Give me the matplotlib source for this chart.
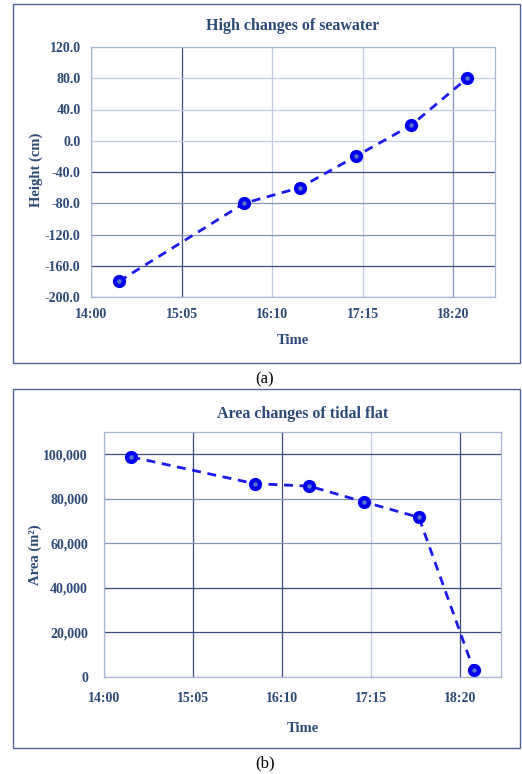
import matplotlib
matplotlib.use("Agg")
import matplotlib.pyplot as plt
from matplotlib.patches import Rectangle
from matplotlib.ticker import FixedLocator, FuncFormatter

# ---- data ----
times = ["14:20", "15:50", "16:30", "17:10", "17:50", "18:30"]
height_cm = [-180, -80, -60, -20, 20, 80]
area_m2 = [98800, 86800, 85700, 78600, 71700, 3200]
tick_labels = ["14:00", "15:05", "16:10", "17:15", "18:20"]
height_ticks = [-200, -160, -120, -80, -40, 0, 40, 80, 120]
area_ticks = [0, 20000, 40000, 60000, 80000, 100000]


def to_min(s):
    h, m = s.split(":")
    return (int(h) - 14) * 60 + int(m)


x = [to_min(t) for t in times]
xt = [to_min(t) for t in tick_labels]

TXT = "#2b4a78"
DARK = "#3a4c7e"
LIGHT = "#c3cde2"
MED = "#8594b8"
plt.rcParams["font.family"] = ["Liberation Serif", "DejaVu Serif"]

W, H = 522, 774
fig = plt.figure(figsize=(W / 100, H / 100), dpi=100)


def px_rect(x0, y0, x1, y1):
    return [x0 / W, 1 - y1 / H, (x1 - x0) / W, (y1 - y0) / H]


# outer boxes
for (x0, y0, x1, y1) in [(13, 4, 520, 363), (13, 389, 520, 748)]:
    fig.patches.append(Rectangle((x0 / W, 1 - y1 / H), (x1 - x0) / W, (y1 - y0) / H,
                                 transform=fig.transFigure, fill=False,
                                 edgecolor="#4f6494", linewidth=1.0))


def style(ax, yticks, fmt, vcols, hcols, ylim, xpad, ypad):
    ax.set_xlim(0, 290)
    ax.set_ylim(*ylim)
    ax.xaxis.set_major_locator(FixedLocator(xt))
    ax.set_xticklabels(tick_labels)
    ax.yaxis.set_major_locator(FixedLocator(yticks))
    ax.yaxis.set_major_formatter(FuncFormatter(fmt))
    ax.tick_params(length=0, labelsize=10, labelcolor=TXT)
    ax.tick_params(axis="x", pad=xpad)
    ax.tick_params(axis="y", pad=ypad)
    for lab in ax.get_xticklabels() + ax.get_yticklabels():
        lab.set_fontweight("bold")
    ax.grid(True, linewidth=0.9)
    ax.set_axisbelow(True)
    for gl, c in zip(ax.xaxis.get_gridlines(), vcols):
        gl.set_color(c)
    for gl, c in zip(ax.yaxis.get_gridlines(), hcols):
        gl.set_color(c)
    for sp in ax.spines.values():
        sp.set_color("#a9b6d3")
        sp.set_linewidth(0.9)


LS = (0, (3.2, 2.4))

# ---- panel (a) ----
ax1 = fig.add_axes(px_rect(91, 47, 495, 297))
ax1.plot(x, height_cm, linestyle=LS, color="#1a1aee", linewidth=2.0,
         marker="o", markersize=8.5, markerfacecolor="#0000ee", markeredgecolor="#0000ee")
ax1.plot(x, height_cm, linestyle="none", marker="o", markersize=2.2, color="#5577cc")
style(ax1, height_ticks, lambda v, p: f"{v:.1f}",
      [MED, DARK, LIGHT, LIGHT, MED],
      [MED, DARK, MED, MED, DARK, LIGHT, LIGHT, LIGHT, LIGHT], (-200, 120), 8, 7.5)
ax1.set_title("High changes of seawater", fontsize=11.5, fontweight="bold",
              color=TXT, pad=12)
ax1.set_ylabel("Height (cm)", fontsize=10.5, fontweight="bold", color=TXT)
ax1.yaxis.set_label_coords(-0.118, 0.51)
ax1.set_xlabel("Time", fontsize=10.5, fontweight="bold", color=TXT, labelpad=9)

# ---- panel (b) ----
ax2 = fig.add_axes(px_rect(104, 432, 501, 677))
ax2.plot(x, area_m2, linestyle=LS, color="#1a1aee", linewidth=2.0,
         marker="o", markersize=8.5, markerfacecolor="#0000ee", markeredgecolor="#0000ee")
ax2.plot(x, area_m2, linestyle="none", marker="o", markersize=2.2, color="#5577cc")
style(ax2, area_ticks, lambda v, p: f"{int(v):,}",
      [MED, DARK, DARK, LIGHT, DARK],
      [MED, DARK, DARK, MED, MED, DARK], (0, 110000), 11, 11.5)
ax2.set_title("Area changes of tidal flat", fontsize=11.5, fontweight="bold",
              color=TXT, pad=10)
ax2.set_ylabel("Area (m²)", fontsize=10.5, fontweight="bold", color=TXT)
ax2.yaxis.set_label_coords(-0.157, 0.50)
ax2.set_xlabel("Time", fontsize=10.5, fontweight="bold", color=TXT, labelpad=12)

# captions
fig.text(265 / W, 1 - 379 / H, "(a)", ha="center", va="center", fontsize=12, color="black")
fig.text(265 / W, 1 - 763 / H, "(b)", ha="center", va="center", fontsize=12, color="black")

fig.savefig("out.png", dpi=100)
